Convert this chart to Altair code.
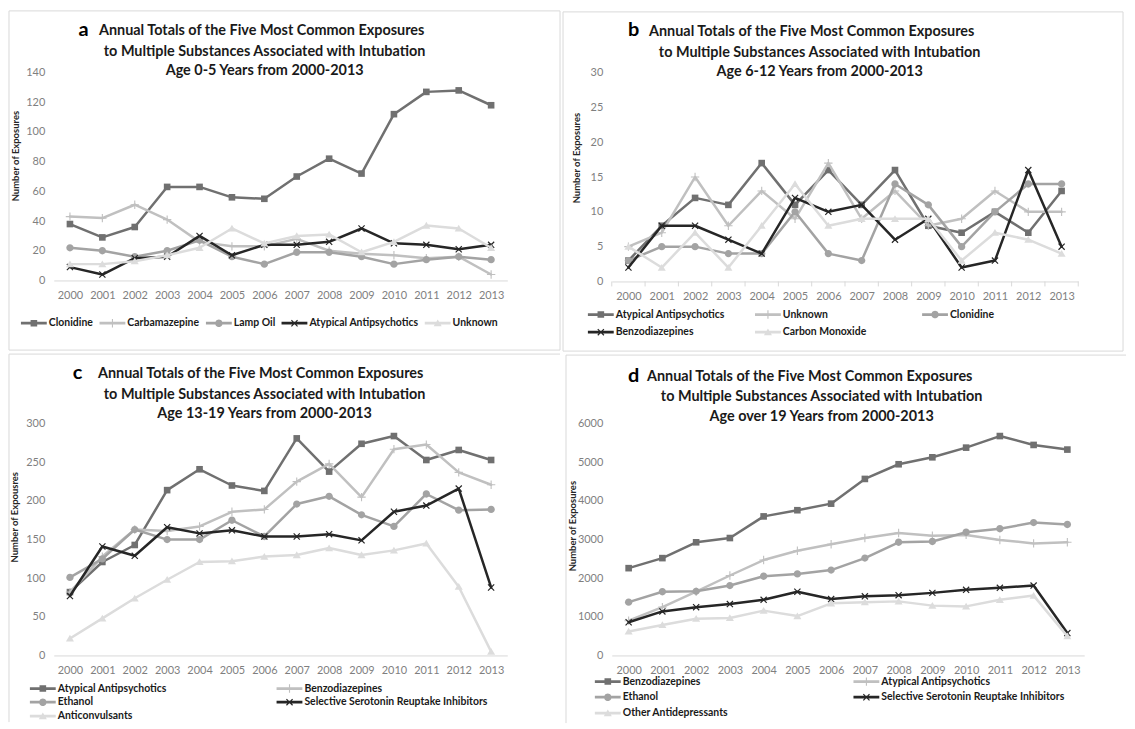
import math
import altair as alt
import pandas as pd

years = [str(y) for y in range(2000, 2014)]

# ---------------- data ----------------
a_series = ["Clonidine", "Carbamazepine", "Lamp Oil", "Atypical Antipsychotics", "Unknown"]
a_clonidine = [38, 29, 36, 63, 63, 56, 55, 70, 82, 72, 112, 127, 128, 118]
a_carbamazepine = [43, 42, 51, 41, 26, 23, 23, 28, 20, 18, 17, 15, 16, 4]
a_lamp_oil = [22, 20, 16, 20, 27, 16, 11, 19, 19, 16, 11, 14, 16, 14]
a_atypical = [9, 4, 15, 16, 30, 17, 24, 24, 26, 35, 25, 24, 21, 24]
a_unknown = [11, 11, 13, 17, 22, 35, 25, 30, 31, 19, 26, 37, 35, 22]

b_series = ["Atypical Antipsychotics", "Unknown", "Clonidine", "Benzodiazepines", "Carbon Monoxide"]
b_atypical = [3, 8, 12, 11, 17, 11, 16, 11, 16, 8, 7, 10, 7, 13]
b_unknown = [5, 7, 15, 8, 13, 9, 17, 9, 13, 8, 9, 13, 10, 10]
b_clonidine = [3, 5, 5, 4, 4, 10, 4, 3, 14, 11, 5, 10, 14, 14]
b_benzo = [2, 8, 8, 6, 4, 12, 10, 11, 6, 9, 2, 3, 16, 5]
b_co = [5, 2, 7, 2, 8, 14, 8, 9, 9, 9, 3, 7, 6, 4]

c_series = ["Atypical Antipsychotics", "Benzodiazepines", "Ethanol",
            "Selective Serotonin Reuptake Inhibitors", "Anticonvulsants"]
c_atypical = [82, 121, 143, 214, 241, 220, 213, 281, 238, 274, 284, 253, 266, 253]
c_benzo = [82, 128, 163, 161, 167, 186, 189, 225, 248, 205, 267, 273, 237, 221]
c_ethanol = [101, 125, 163, 150, 150, 175, 154, 196, 206, 182, 167, 209, 188, 189]
c_ssri = [77, 141, 129, 166, 158, 162, 154, 154, 157, 149, 186, 194, 216, 88]
c_anticonv = [22, 48, 74, 98, 121, 122, 128, 130, 139, 130, 136, 145, 89, 5]

d_series = ["Benzodiazepines", "Atypical Antipsychotics", "Ethanol",
            "Selective Serotonin Reuptake Inhibitors", "Other Antidepressants"]
d_benzo = [2260, 2520, 2930, 3040, 3600, 3760, 3930, 4570, 4950, 5130, 5380, 5680, 5450, 5330]
d_atypical = [900, 1250, 1650, 2070, 2470, 2710, 2880, 3040, 3170, 3100, 3120, 2990, 2900, 2930]
d_ethanol = [1380, 1650, 1660, 1810, 2050, 2110, 2210, 2520, 2930, 2950, 3190, 3280, 3440, 3390]
d_ssri = [860, 1140, 1250, 1330, 1440, 1650, 1460, 1530, 1560, 1620, 1700, 1750, 1810, 580]
d_other = [620, 790, 950, 970, 1160, 1020, 1350, 1380, 1400, 1290, 1270, 1440, 1550, 500]

title_line1 = "Annual Totals of the Five Most Common Exposures"
title_line2 = "to Multiple Substances Associated with Intubation"
a_line3 = "Age 0-5 Years from 2000-2013"
b_line3 = "Age 6-12 Years from 2000-2013"
c_line3 = "Age 13-19 Years from 2000-2013"
d_line3 = "Age over 19 Years from 2000-2013"
y_title = "Number of Exposures"
c_y_title = "Number of Expousres"

# ---------------- styles ----------------
FONT = "Lato"
SERIES_COLORS = ["#707070", "#c0c0c0", "#a3a3a3", "#262626", "#dcdcdc"]
MARKERS = ["square", "plus", "circle", "x", "triangle"]
FRAME = "#d9d9d9"
LABEL = "#7f7f7f"
TITLE = "#1a1a1a"
TITLE_SIZE = 14.5


def rect(x1, y1, x2, y2):
    return f"M{x1:.3f},{y1:.3f}H{x2:.3f}V{y2:.3f}H{x1:.3f}Z"


def rot_rect(cx, cy, hl, ht, ang):
    c, s = math.cos(ang), math.sin(ang)
    pts = [(-hl, -ht), (hl, -ht), (hl, ht), (-hl, ht)]
    out = []
    for i, (px, py) in enumerate(pts):
        x = cx + px * c - py * s
        y = cy + px * s + py * c
        out.append(("M" if i == 0 else "L") + f"{x:.3f},{y:.3f}")
    return "".join(out) + "Z"


def marker(kind, cx, k):
    if kind == "square":
        r = 0.95 * k
        return rect(cx - r, -r, cx + r, r)
    if kind == "circle":
        r = 1.05 * k
        return (f"M{cx - r:.3f},0A{r:.3f},{r:.3f} 0 1,1 {cx + r:.3f},0"
                f"A{r:.3f},{r:.3f} 0 1,1 {cx - r:.3f},0Z")
    if kind == "triangle":
        r = 1.05 * k
        return f"M{cx:.3f},{-r:.3f}L{cx + r * 1.1:.3f},{r * 0.85:.3f}L{cx - r * 1.1:.3f},{r * 0.85:.3f}Z"
    if kind == "plus":
        r, t = 1.2 * k, 0.16 * k
        return rect(cx - r, -t, cx + r, t) + rect(cx - t, -r, cx + t, r)
    r, t = 1.25 * k, 0.17 * k
    return rot_rect(cx, 0, r, t, math.pi / 4) + rot_rect(cx, 0, r, t, -math.pi / 4)


POINT_SIZE = 49          # 1 unit = 3.5 px
LEG_SIZE = 144           # 1 unit = 6 px
POINT_PATHS = [marker(m, 0, 1.0) for m in MARKERS]
LEG_PATHS = [rect(-1, -0.23, 3.33, 0.23) + marker(m, 1.17, 3.5 / 6) for m in MARKERS]

ONE = pd.DataFrame({"k": [0]})


def text_layer(txt, x, y, size, color=TITLE, angle=0, weight="bold"):
    return alt.Chart(ONE).mark_text(
        text=txt, font=FONT, fontSize=size, fontWeight=weight, color=color,
        angle=angle, align="center", baseline="middle"
    ).encode(x=alt.value(x), y=alt.value(y))


def panel(names, values, ymax, ystep, W, H, frame, line3, tpos, letter, lpos,
          ytxt, ypos, leg, ticks=False, open_frame=False):
    rows = []
    for name, vals in zip(names, values):
        for yr, v in zip(years, vals):
            rows.append({"year": yr, "value": v, "series": name})
    df = pd.DataFrame(rows)

    xenc = alt.X("year:O", sort=years, scale=alt.Scale(type="point", padding=0.5),
                 axis=alt.Axis(title=None, labelAngle=0, labelFont=FONT, labelFontSize=11,
                               labelColor=LABEL, labelPadding=9, ticks=False, tickSize=0,
                               domainColor=FRAME, domainWidth=1, grid=False))
    yenc = alt.Y("value:Q", scale=alt.Scale(domain=[0, ymax], nice=False, zero=True),
                 axis=alt.Axis(title=None, values=list(range(0, ymax + 1, ystep)), format="d",
                               labelFont=FONT, labelFontSize=11, labelColor=LABEL,
                               labelPadding=9, ticks=False, tickSize=0, domain=False,
                               grid=False))

    layers = []
    fx1, fx2, fy1, fy2 = frame
    if open_frame:
        layers.append(alt.Chart(ONE).mark_rule(color=FRAME, strokeWidth=1).encode(
            x=alt.value(fx1), x2=alt.value(fx2), y=alt.value(fy1)))
        layers.append(alt.Chart(ONE).mark_rule(color=FRAME, strokeWidth=1).encode(
            x=alt.value(fx1), y=alt.value(fy1), y2=alt.value(fy2)))
    else:
        layers.append(alt.Chart(ONE).mark_rect(filled=False, color=FRAME, strokeWidth=1).encode(
            x=alt.value(fx1), x2=alt.value(fx2), y=alt.value(fy1), y2=alt.value(fy2)))

    if ticks:
        step = W / len(years)
        ydf = pd.DataFrame({"year": years})
        layers.append(alt.Chart(ydf).mark_rule(color=FRAME, strokeWidth=1, xOffset=-step / 2).encode(
            x=xenc, y=alt.value(H), y2=alt.value(H + 5)))
        layers.append(alt.Chart(ydf).transform_filter(alt.datum.year == years[-1]).mark_rule(
            color=FRAME, strokeWidth=1, xOffset=step / 2).encode(
            x=xenc, y=alt.value(H), y2=alt.value(H + 5)))

    for i, name in enumerate(names):
        base = alt.Chart(df).transform_filter(alt.datum.series == name)
        layers.append(base.mark_line(color=SERIES_COLORS[i], strokeWidth=2.5,
                                     strokeJoin="round", strokeCap="round").encode(x=xenc, y=yenc))
        layers.append(base.mark_point(shape=POINT_PATHS[i], size=POINT_SIZE, filled=True,
                                      color=SERIES_COLORS[i], opacity=1, strokeWidth=0).encode(x=xenc, y=yenc))

    lx, ly, cols, galign, cpad, rpad = leg
    legend = alt.Legend(orient="none", legendX=lx, legendY=ly, direction="horizontal",
                        columns=cols, gridAlign=galign, columnPadding=cpad, rowPadding=rpad,
                        symbolSize=LEG_SIZE, symbolStrokeWidth=0, symbolOpacity=1,
                        labelFont=FONT, labelFontSize=10.5, labelFontWeight="bold",
                        labelColor="#1a1a1a", labelOffset=16, labelLimit=400,
                        title=None, padding=0)
    layers.append(alt.Chart(df).mark_point(filled=True, opacity=0).encode(
        x=xenc, y=yenc,
        color=alt.Color("series:N", sort=names, scale=alt.Scale(domain=names, range=SERIES_COLORS),
                        legend=legend),
        shape=alt.Shape("series:N", sort=names, scale=alt.Scale(domain=names, range=LEG_PATHS),
                        legend=legend)))

    layers.append(text_layer(letter, lpos[0], lpos[1], 20, color="#000000"))
    layers.append(text_layer(title_line1, tpos[0][0], tpos[0][1], TITLE_SIZE))
    layers.append(text_layer(title_line2, tpos[1][0], tpos[1][1], TITLE_SIZE))
    layers.append(text_layer(line3, tpos[2][0], tpos[2][1], TITLE_SIZE))
    layers.append(text_layer(ytxt, ypos[0], ypos[1], 9.5, color="#262626", angle=270))

    return alt.layer(*layers).properties(width=W, height=H)


pa = panel(a_series, [a_clonidine, a_carbamazepine, a_lamp_oil, a_atypical, a_unknown],
           140, 20, 456, 209, (-45, 509, -62, 279), a_line3,
           [(209, -42), (212, -21), (212, -2)], "a", (30, -43), y_title, (-38, 84),
           (-33, 246, 5, "none", 6, 0))
pb = panel(b_series, [b_atypical, b_unknown, b_clonidine, b_benzo, b_co],
           30, 5, 469, 210, (-49, 514, -61, 280), b_line3,
           [(201, -41), (209, -20), (209, -1)], "b", (22, -43), y_title, (-35, 86),
           (-24, 237, 3, "all", 30, 6), ticks=True)
pc = panel(c_series, [c_atypical, c_benzo, c_ethanol, c_ssri, c_anticonv],
           300, 50, 456, 233, (-45, 509, -70, 300), c_line3,
           [(208, -50), (212, -29), (212, -10)], "c", (24, -51), c_y_title, (-39, 94),
           (-24, 260, 2, "each", 110, 2), open_frame=True)
pd_ = panel(d_series, [d_benzo, d_atypical, d_ethanol, d_ssri, d_other],
            6000, 1000, 475, 233, (-46, 517, -69, 301), d_line3,
            [(199, -47), (211, -27), (211, -7)], "d", (22, -48), y_title, (-39, 103),
            (-17, 253, 2, "each", 125, 4), open_frame=True)

chart = alt.concat(pa, pb, pc, pd_, columns=2, spacing=1, align="each").resolve_scale(
    color="independent", shape="independent"
).resolve_legend(
    color="independent", shape="independent"
).properties(
    padding=0
).configure(font=FONT).configure_view(stroke="transparent")

chart.save("out.html", embed_options={"renderer": "svg", "actions": False})
